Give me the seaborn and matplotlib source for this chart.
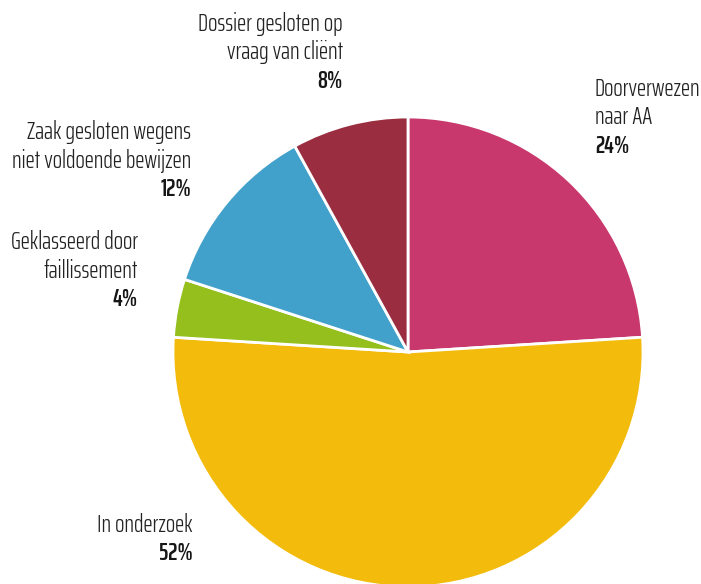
import matplotlib
matplotlib.use("Agg")
import matplotlib.pyplot as plt
import seaborn as sns

# slices, clockwise from the top
labels = ["Doorverwezen\nnaar AA", "In onderzoek", "Geklasseerd door\nfaillissement",
          "Zaak gesloten wegens\nniet voldoende bewijzen", "Dossier gesloten op\nvraag van cliënt"]
shares = [24, 52, 4, 12, 8]
colors = ["#C8386C", "#F3BC0C", "#94BF1C", "#41A1CA", "#9A2E40"]

sns.set_theme(style="white")
fams = ["Saira ExtraCondensed", "Barlow Condensed", "DejaVu Sans"]
plt.rcParams["font.family"] = fams

W, H = 701, 584
fig = plt.figure(figsize=(W / 100, H / 100), dpi=100)
fig.patch.set_facecolor("white")

# pie centre (408, 352) px, radius 235 px
cx, cy, r = 408, 352, 235
ax = fig.add_axes([(cx - r) / W, (H - cy - r) / H, 2 * r / W, 2 * r / H])
ax.pie(shares, colors=colors, startangle=90, counterclock=False,
       wedgeprops=dict(edgecolor="white", linewidth=2), radius=1)
ax.set_xlim(-1, 1)
ax.set_ylim(-1, 1)
ax.set_aspect("equal")
ax.axis("off")

# label anchors in pixels (x, baseline of first line), alignment
anchors = [(595, 96, "left"), (193, 532, "right"), (138, 249, "right"),
           (191, 139, "right"), (343, 31, "right")]
line_h = 28.5
for lab, s, (x, y, ha) in zip(labels, shares, anchors):
    n = lab.count("\n") + 1
    for i, line in enumerate(lab.split("\n")):
        fig.text(x / W, 1 - (y + i * line_h) / H, line, ha=ha, va="baseline",
                 fontsize=17.8, fontweight=300, color="#222222")
    fig.text(x / W, 1 - (y + n * line_h) / H, f"{s}%", ha=ha, va="baseline",
             fontsize=17.8, fontweight=600, color="#161616")

fig.savefig("out.png", dpi=100)
